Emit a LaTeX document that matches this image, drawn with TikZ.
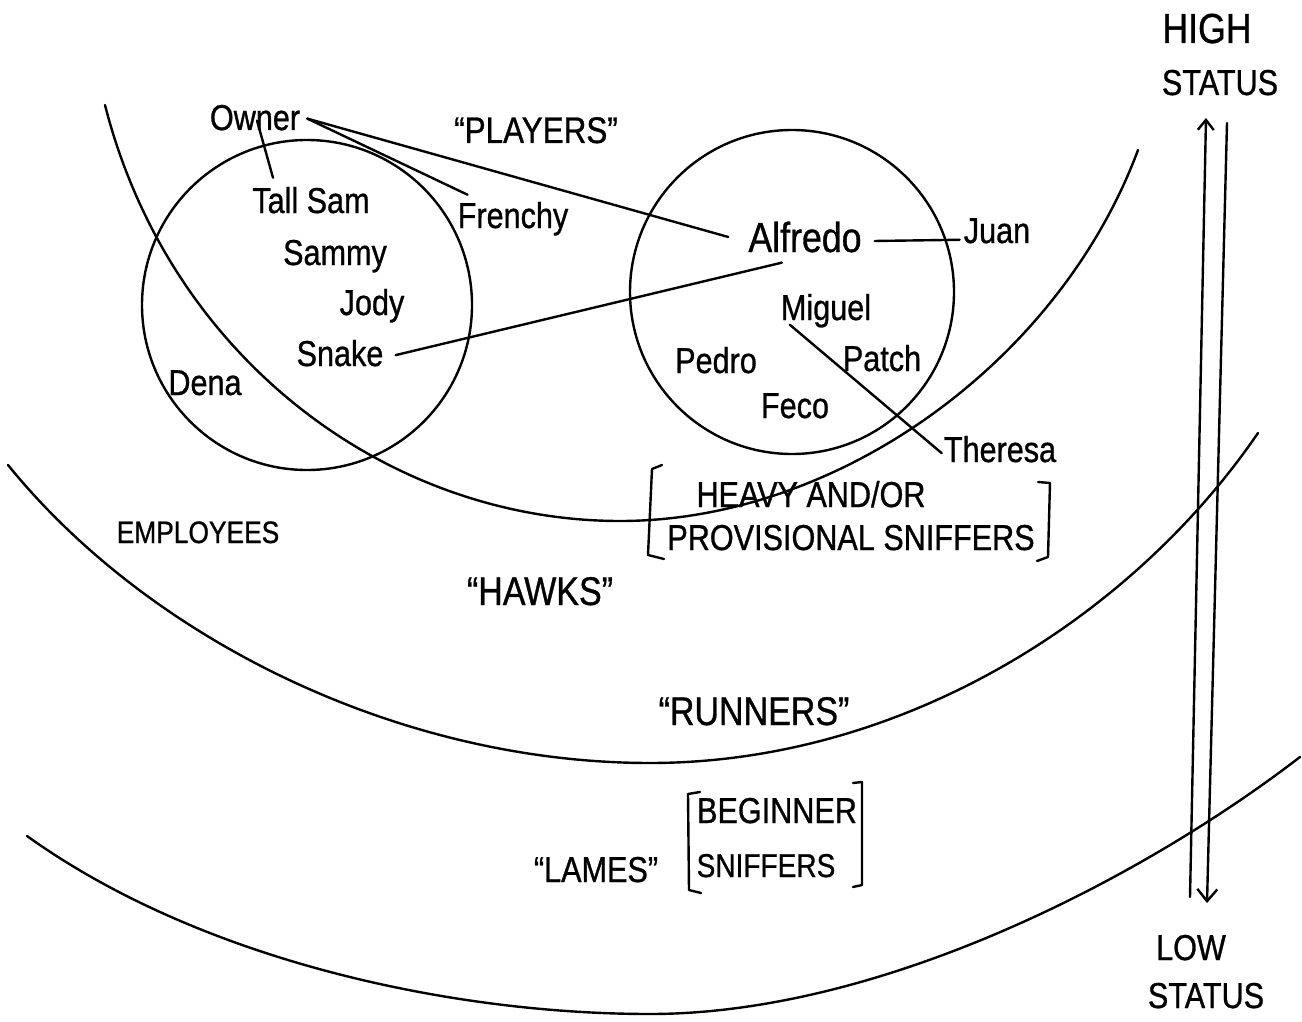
\documentclass[tikz,border=0pt]{standalone}
\usepackage{fontspec}
\setmainfont{Liberation Sans}[FakeStretch=0.85,FakeBold=0.8]
\usetikzlibrary{arrows.meta,calc}
\tikzset{
  lbl/.style={font=\fontsize{#1}{#1}\selectfont, inner sep=2pt, anchor=base},
  lbl/.default=36,
  ln/.style={line width=2.4pt, line cap=round, line join=round},
  curve/.style={line width=2.4pt, line cap=round},
}
\begin{document}
\begin{tikzpicture}[x=1pt,y=-1pt]
\useasboundingbox[fill=white] (0,0) rectangle (1302,1022);

% region boundaries
\draw[curve] (105,105) .. controls (170,360) and (390,521) .. (620,521)
                       .. controls (840,521) and (1060,360) .. (1138,150);
\draw[curve] (8,465) .. controls (150,640) and (400,763) .. (650,763)
                     .. controls (900,763) and (1130,620) .. (1258,433);
\draw[curve] (27,836) .. controls (200,960) and (450,1014) .. (650,1014)
                      .. controls (880,1014) and (1140,880) .. (1300,757);

% circles
\draw[curve] (307,305) circle[radius=165];
\draw[curve] (792,292) circle[radius=162];

% labels
\node[lbl] (Owner) at (255,130) {Owner};
\node[lbl=37] (Players) at (536,143) {“PLAYERS”};
\node[lbl] (TallSam) at (311,213) {Tall Sam};
\node[lbl] (Frenchy) at (513,228) {Frenchy};
\node[lbl] (Sammy) at (335,265) {Sammy};
\node[lbl] (Jody) at (372,315) {Jody};
\node[lbl] (Snake) at (340,366) {Snake};
\node[lbl] (Dena) at (205,395) {Dena};
\node[lbl=42] (Alfredo) at (805,252) {Alfredo};
\node[lbl] (Juan) at (997,243) {Juan};
\node[lbl] (Miguel) at (826,320) {Miguel};
\node[lbl] (Pedro) at (716,373) {Pedro};
\node[lbl] (Patch) at (882,371) {Patch};
\node[lbl] (Feco) at (795,418) {Feco};
\node[lbl] (Theresa) at (1000,462) {Theresa};
\node[lbl] (Heavy) at (811,507) {HEAVY AND/OR};
\node[lbl] (Prov) at (851,550) {PROVISIONAL SNIFFERS};
\node[lbl=31] (Employees) at (198,543) {EMPLOYEES};
\node[lbl=40] (Hawks) at (540,605) {“HAWKS”};
\node[lbl=40] (Runners) at (754,725) {“RUNNERS”};
\node[lbl] (Lames) at (596,882) {“LAMES”};
\node[lbl] (Beginner) at (777,823) {BEGINNER};
\node[lbl=33] (Sniffers) at (766,877) {SNIFFERS};
\node[lbl=42] (High) at (1207,43) {HIGH};
\node[lbl] (StatusTop) at (1220,95) {STATUS};
\node[lbl] (Low) at (1191,960) {LOW};
\node[lbl] (StatusBot) at (1206,1008) {STATUS};

% brackets
\draw[ln] (662,465) -- (652,469) -- (648,555) -- (664,559);
\draw[ln] (1038,482) -- (1050,483) -- (1048,557) -- (1037,561);
\draw[ln] (700,792) -- (688,794) -- (689,890) -- (701,893);
\draw[ln] (853,783) -- (862,782) -- (862,885) -- (853,887);

% connectors
\draw[ln] ($(Owner.center)+(2,3)$) -- ($(TallSam.north)+(-38,-7)$);
\draw[ln] ($(Owner.east)+(5,1)$) -- ($(Frenchy.north west)+(12,-5)$);
\draw[ln] ($(Owner.east)+(5,1)$) -- ($(Alfredo.west)+(-18,0)$);
\draw[ln] ($(Snake.east)+(10,2)$) -- ($(Alfredo.south)+(-23,8)$);
\draw[ln] ($(Alfredo.east)+(11,4)$) -- ($(Juan.west)+(-2,9)$);
\draw[ln] ($(Miguel.south west)+(11,-5)$) -- ($(Theresa.west)+(0,4)$);

% status arrows
\coordinate (upFrom) at (1190,897);
\coordinate (upTo) at (1206,118);
\coordinate (dnFrom) at (1227,123);
\coordinate (dnTo) at (1207,903);
\draw[ln, -{Straight Barb[length=10pt,width=16pt]}] (upFrom) -- (upTo);
\draw[ln, -{Straight Barb[length=12pt,width=20pt]}] (dnFrom) -- (dnTo);
\end{tikzpicture}
\end{document}
